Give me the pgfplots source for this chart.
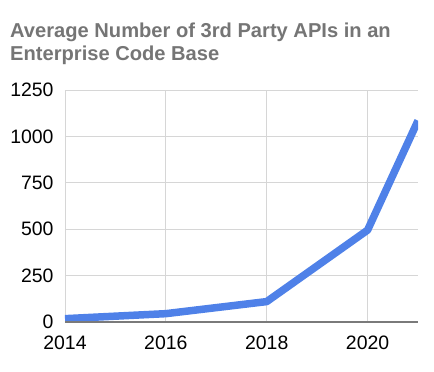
\documentclass[border=0pt]{standalone}
\usepackage{pgfplots}
\pgfplotsset{compat=1.18}
\usepackage{fontspec}
\setmainfont{Liberation Sans}
\definecolor{lineblue}{HTML}{4F81E8}
\definecolor{titlegray}{HTML}{757575}
\definecolor{gridgray}{HTML}{D6D6D6}
\definecolor{axisgray}{HTML}{7A7A7A}
\begin{document}
\begin{tikzpicture}[x=1bp,y=1bp]
\useasboundingbox (-65,-49) rectangle (369,322);
\begin{axis}[
  at={(0,0)}, anchor=origin,
  scale only axis,
  width=353bp, height=232bp,
  xmin=2014, xmax=2021,
  ymin=0, ymax=1250,
  xtick={2014,2016,2018,2020},
  ytick={0,250,500,750,1000,1250},
  xticklabels={2014,2016,2018,2020},
  yticklabels={0,250,500,750,1000,1250},
  axis line style={draw=none},
  grid=major,
  major grid style={gridgray, line width=0.9bp},
  tick style={draw=none},
  ticklabel style={font=\fontsize{19.5}{22}\selectfont, text=black},
  xticklabel style={yshift=-10bp},
  yticklabel style={xshift=-8bp},
  clip=true,
  /pgf/number format/assume math mode=true,
]
\addplot[lineblue, line width=7.5bp, line join=round] coordinates {
  (2014,18) (2016,45) (2018,110) (2020,495) (2021,1085)
};
\draw[axisgray, line width=1.5bp] (axis cs:2014,0) -- (axis cs:2021,0);
\end{axis}
\node[anchor=base west, inner sep=0, text=titlegray, font=\fontsize{20.2}{23}\selectfont\bfseries] at (-55,284.5) {Average Number of 3rd Party APIs in an};
\node[anchor=base west, inner sep=0, text=titlegray, font=\fontsize{20.2}{23}\selectfont\bfseries] at (-55,261.5) {Enterprise Code Base};
\end{tikzpicture}
\end{document}
